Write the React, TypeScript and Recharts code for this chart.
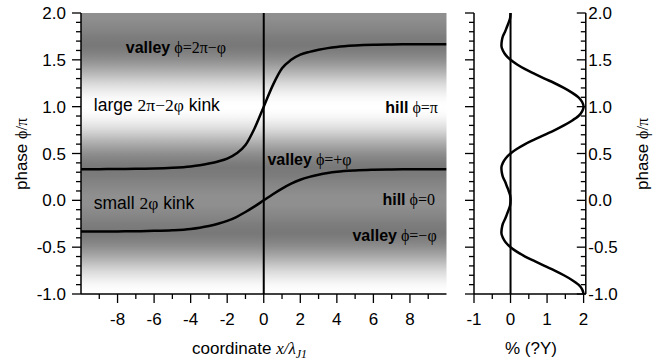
import React from 'react';
import {
  LineChart,
  Line,
  XAxis,
  YAxis,
  ReferenceLine,
  ReferenceArea,
  ReferenceDot,
  ScatterChart,
  Scatter,
} from 'recharts';

// Coordinate along the junction, x/λJ1
const coordinate = [-10, -9, -8, -7, -6, -5, -4, -3.5, -3, -2.5, -2, -1.5, -1, -0.5, 0, 0.5, 1, 1.5, 2, 2.5, 3, 3.5, 4, 5, 6, 7, 8, 9, 10];
// Phase (in units of π) of the large 2π−2φ kink
const largeKink = [0.333, 0.333, 0.334, 0.336, 0.339, 0.347, 0.362, 0.375, 0.393, 0.415, 0.445, 0.5, 0.59, 0.77, 1.0, 1.23, 1.41, 1.5, 1.555, 1.585, 1.607, 1.625, 1.638, 1.653, 1.661, 1.664, 1.666, 1.667, 1.667];
// Phase (in units of π) of the small 2φ kink
const smallKink = [-0.333, -0.333, -0.332, -0.33, -0.326, -0.319, -0.305, -0.292, -0.274, -0.25, -0.22, -0.178, -0.125, -0.065, 0.0, 0.065, 0.125, 0.178, 0.22, 0.25, 0.274, 0.292, 0.305, 0.319, 0.326, 0.33, 0.332, 0.333, 0.333];

// Potential profile versus phase (right panel, also used for the background shading)
const profilePhase = [
  -1.0, -0.95, -0.9, -0.85, -0.8, -0.75, -0.7, -0.65, -0.6, -0.55, -0.5, -0.45, -0.4, -0.35, -0.3, -0.25, -0.2, -0.15, -0.1, -0.05,
  0.0, 0.05, 0.1, 0.15, 0.2, 0.25, 0.3, 0.35, 0.4, 0.45, 0.5, 0.55, 0.6, 0.65, 0.7, 0.75, 0.8, 0.85, 0.9, 0.95,
  1.0, 1.05, 1.1, 1.15, 1.2, 1.25, 1.3, 1.35, 1.4, 1.45, 1.5, 1.55, 1.6, 1.65, 1.7, 1.75, 1.8, 1.85, 1.9, 1.95, 2.0,
];
const profileValue = [
  2.0, 1.96, 1.86, 1.68, 1.46, 1.21, 0.93, 0.66, 0.4, 0.18, 0.0, -0.13, -0.21, -0.25, -0.24, -0.21, -0.15, -0.1, -0.05, -0.01,
  0.0, -0.01, -0.05, -0.1, -0.15, -0.21, -0.24, -0.25, -0.21, -0.13, 0.0, 0.18, 0.4, 0.66, 0.93, 1.21, 1.46, 1.68, 1.86, 1.96,
  2.0, 1.96, 1.86, 1.68, 1.46, 1.21, 0.93, 0.66, 0.4, 0.18, 0.0, -0.13, -0.21, -0.25, -0.24, -0.21, -0.15, -0.1, -0.05, -0.01, 0.0,
];

// Tick values
const coordMajorTicks = [-8, -6, -4, -2, 0, 2, 4, 6, 8];
const coordMinorTicks = [-9, -7, -5, -3, -1, 1, 3, 5, 7, 9];
const phaseMajorTicks = [-1, -0.5, 0, 0.5, 1, 1.5, 2];
const phaseMinorTicks = [-0.9, -0.8, -0.7, -0.6, -0.4, -0.3, -0.2, -0.1, 0.1, 0.2, 0.3, 0.4, 0.6, 0.7, 0.8, 0.9, 1.1, 1.2, 1.3, 1.4, 1.6, 1.7, 1.8, 1.9];
const profileMajorTicks = [-1, 0, 1, 2];
const profileMinorTicks = [-0.5, 0.5, 1.5];

const kinkData = coordinate.map((x, i) => ({ x, large: largeKink[i], small: smallKink[i] }));
const profileData = profilePhase.map((phase, i) => ({ phase, value: profileValue[i] }));

const coordTicks = [...coordMajorTicks, ...coordMinorTicks].sort((a, b) => a - b);
const phaseTicks = [...phaseMajorTicks, ...phaseMinorTicks].sort((a, b) => a - b);
const profileTicks = [...profileMajorTicks, ...profileMinorTicks].sort((a, b) => a - b);

const SANS = '"Liberation Sans", Arial, Helvetica, sans-serif';
const SERIF = '"Liberation Serif", "Times New Roman", "DejaVu Serif", serif';
const TICK_FONT = 17;
const MAJOR_LEN = 9;
const MINOR_LEN = 5;
const AXIS_STROKE = { stroke: '#000', strokeWidth: 1.5 };

const inList = (list: number[], v: number) => list.some((m) => Math.abs(m - v) < 1e-6);

// Horizontal-axis ticks: tick marks always hang downward from the axis line
const xTick = (majors: number[], withLabels: boolean) => (props: any) => {
  const { x, y, payload } = props;
  const v = payload.value as number;
  const major = inList(majors, v);
  return (
    <g>
      <line x1={x} x2={x} y1={y} y2={y + (major ? MAJOR_LEN : MINOR_LEN)} stroke="#000" strokeWidth={1.3} />
      {withLabels && major ? (
        <text x={x} y={y + 31} textAnchor="middle" fontSize={TICK_FONT} fontFamily={SANS} fill="#000">
          {String(v)}
        </text>
      ) : null}
    </g>
  );
};

// Vertical-axis ticks: tick marks always point left from the axis line
const yTick = (majors: number[], labelSide: 'left' | 'right' | null) => (props: any) => {
  const { x, y, payload } = props;
  const v = payload.value as number;
  const major = inList(majors, v);
  return (
    <g>
      <line x1={x - (major ? MAJOR_LEN : MINOR_LEN)} x2={x} y1={y} y2={y} stroke="#000" strokeWidth={1.3} />
      {labelSide && major ? (
        <text
          x={labelSide === 'left' ? x - 15 : x + 2.5}
          y={y + 6}
          textAnchor={labelSide === 'left' ? 'end' : 'start'}
          fontSize={TICK_FONT}
          fontFamily={SANS}
          fill="#000"
        >
          {v.toFixed(1)}
        </text>
      ) : null}
    </g>
  );
};

const vmin = Math.min(...profileValue);
const vmax = Math.max(...profileValue);
const shade = (v: number) => {
  const t = Math.pow((v - vmin) / (vmax - vmin), 0.8);
  const g = Math.round(120 + (255 - 120) * t);
  return `rgb(${g},${g},${g})`;
};

// Annotation text placed at a data coordinate
const note = (parts: { t: string; serif?: boolean; bold?: boolean }[], anchor: 'start' | 'end', size = 16) => (props: any) => (
  <text x={props.cx} y={props.cy} textAnchor={anchor} fontSize={size} fill="#000">
    {parts.map((p, i) => (
      <tspan key={i} fontFamily={p.serif ? SERIF : SANS} fontWeight={p.bold ? 'bold' : 'normal'}>
        {p.t}
      </tspan>
    ))}
  </text>
);

function KinkPanel() {
  return (
    <LineChart width={460} height={364} data={kinkData} margin={{ top: 13, right: 13.5, bottom: 0, left: 0 }}>
      <defs>
        <linearGradient id="phaseShade" x1="0" y1="0" x2="0" y2="1">
          {profileData
            .slice()
            .reverse()
            .map((d, i) => (
              <stop key={i} offset={(2 - d.phase) / 3} stopColor={shade(d.value)} />
            ))}
        </linearGradient>
      </defs>
      <ReferenceArea x1={-10} x2={10} y1={-1} y2={2} fill="url(#phaseShade)" fillOpacity={1} stroke="none" />
      <XAxis
        type="number"
        dataKey="x"
        domain={[-10, 10]}
        allowDataOverflow
        ticks={coordTicks}
        interval={0}
        tickSize={0}
        tickMargin={0}
        tickLine={false}
        tick={xTick(coordMajorTicks, true)}
        axisLine={AXIS_STROKE}
        height={70}
      />
      <XAxis
        xAxisId="top"
        orientation="top"
        type="number"
        dataKey="x"
        domain={[-10, 10]}
        allowDataOverflow
        ticks={coordTicks}
        interval={0}
        tickSize={0}
        tickMargin={0}
        tickLine={false}
        tick={xTick(coordMajorTicks, false)}
        axisLine={AXIS_STROKE}
        height={0}
      />
      <YAxis
        type="number"
        domain={[-1, 2]}
        allowDataOverflow
        ticks={phaseTicks}
        interval={0}
        tickSize={0}
        tickMargin={0}
        tickLine={false}
        tick={yTick(phaseMajorTicks, 'left')}
        axisLine={AXIS_STROKE}
        width={81}
      />
      <YAxis
        yAxisId="right"
        orientation="right"
        type="number"
        domain={[-1, 2]}
        allowDataOverflow
        ticks={phaseTicks}
        interval={0}
        tickSize={0}
        tickMargin={0}
        tickLine={false}
        tick={yTick(phaseMajorTicks, null)}
        axisLine={AXIS_STROKE}
        width={0}
      />
      <ReferenceLine x={0} stroke="#000" strokeWidth={2} />
      <Line dataKey="large" type="monotone" stroke="#000" strokeWidth={2.5} dot={false} isAnimationActive={false} />
      <Line dataKey="small" type="monotone" stroke="#000" strokeWidth={2.5} dot={false} isAnimationActive={false} />

      <ReferenceDot x={-7.55} y={1.57} r={0} shape={note([{ t: 'valley', bold: true }, { t: ' ϕ=2π−φ', serif: true }], 'start')} />
      <ReferenceDot x={-9.3} y={0.95} r={0} shape={note([{ t: 'large ' }, { t: '2π−2φ', serif: true }, { t: ' kink' }], 'start', 17.5)} />
      <ReferenceDot x={0.2} y={0.38} r={0} shape={note([{ t: 'valley', bold: true }, { t: ' ϕ=+φ', serif: true }], 'start')} />
      <ReferenceDot x={9.53} y={0.93} r={0} shape={note([{ t: 'hill', bold: true }, { t: ' ϕ=π', serif: true }], 'end')} />
      <ReferenceDot x={-9.3} y={-0.09} r={0} shape={note([{ t: 'small ' }, { t: '2φ', serif: true }, { t: ' kink' }], 'start', 17.5)} />
      <ReferenceDot x={9.37} y={-0.05} r={0} shape={note([{ t: 'hill', bold: true }, { t: ' ϕ=0', serif: true }], 'end')} />
      <ReferenceDot x={9.46} y={-0.43} r={0} shape={note([{ t: 'valley', bold: true }, { t: ' ϕ=−φ', serif: true }], 'end')} />

      <text x={27} y={154} transform="rotate(-90 27 154)" textAnchor="middle" fontSize={17} fill="#000">
        <tspan fontFamily={SANS}>phase </tspan>
        <tspan fontFamily={SERIF} fontSize={16}>ϕ/π</tspan>
      </text>
      <text x={192} y={354} fontSize={17} fill="#000">
        <tspan fontFamily={SANS}>coordinate </tspan>
        <tspan fontFamily={SERIF} fontStyle="italic">x/λ</tspan>
        <tspan fontFamily={SERIF} fontStyle="italic" fontSize={12} dy={4}>J1</tspan>
      </text>
    </LineChart>
  );
}

function ProfilePanel() {
  return (
    <ScatterChart width={202} height={364} margin={{ top: 13, right: 0, bottom: 0, left: 0 }}>
      <XAxis
        type="number"
        dataKey="value"
        domain={[-1, 2.06]}
        allowDataOverflow
        ticks={profileTicks}
        interval={0}
        tickSize={0}
        tickMargin={0}
        tickLine={false}
        tick={xTick(profileMajorTicks, true)}
        axisLine={AXIS_STROKE}
        height={70}
      />
      <XAxis
        xAxisId="top"
        orientation="top"
        type="number"
        dataKey="value"
        domain={[-1, 2.06]}
        allowDataOverflow
        ticks={profileTicks}
        interval={0}
        tickSize={0}
        tickMargin={0}
        tickLine={false}
        tick={xTick(profileMajorTicks, false)}
        axisLine={AXIS_STROKE}
        height={0}
      />
      <YAxis
        type="number"
        dataKey="phase"
        domain={[-1, 2]}
        allowDataOverflow
        ticks={phaseTicks}
        interval={0}
        tickSize={0}
        tickMargin={0}
        tickLine={false}
        tick={yTick(phaseMajorTicks, null)}
        axisLine={AXIS_STROKE}
        width={14}
      />
      <YAxis
        yAxisId="right"
        orientation="right"
        type="number"
        dataKey="phase"
        domain={[-1, 2]}
        allowDataOverflow
        ticks={phaseTicks}
        interval={0}
        tickSize={0}
        tickMargin={0}
        tickLine={false}
        tick={yTick(phaseMajorTicks, 'right')}
        axisLine={AXIS_STROKE}
        width={76.2}
      />
      <ReferenceLine x={0} stroke="#000" strokeWidth={2} />
      <Scatter
        data={profileData}
        line={{ stroke: '#000', strokeWidth: 2.5 }}
        lineJointType="monotoneY"
        shape={() => <g />}
        isAnimationActive={false}
      />
      <text x={71} y={354} textAnchor="middle" fontSize={17} fontFamily={SANS} fill="#000">
        % (?Y)
      </text>
      <text x={188} y={154} transform="rotate(-90 188 154)" textAnchor="middle" fontSize={17} fill="#000">
        <tspan fontFamily={SANS}>phase </tspan>
        <tspan fontFamily={SERIF} fontSize={16}>ϕ/π</tspan>
      </text>
    </ScatterChart>
  );
}

export default function App() {
  return (
    <div style={{ position: 'absolute', left: 0, top: 0, width: 662, height: 364, background: '#fff' }}>
      <div style={{ position: 'absolute', left: 0, top: 0 }}>
        <KinkPanel />
      </div>
      <div style={{ position: 'absolute', left: 460, top: 0 }}>
        <ProfilePanel />
      </div>
    </div>
  );
}
